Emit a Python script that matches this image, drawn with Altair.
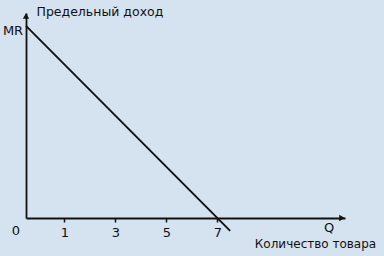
import altair as alt
import pandas as pd

# data
q_line = [-0.5, 7.5]
mr_line = [7.5, -0.5]
tick_values = [1, 3, 5, 7]

x_title = "Количество товара"
y_title = "Предельный доход"

X_DOMAIN = [-0.5, 12]
Y_DOMAIN = [0, 8]
FONT = "DejaVu Sans"
INK = "#111"

xs = alt.Scale(domain=X_DOMAIN, nice=False, zero=False)
ys = alt.Scale(domain=Y_DOMAIN, nice=False, zero=False)

line_df = pd.DataFrame({"Q": q_line, "MR": mr_line})

line = alt.Chart(line_df).mark_line(color=INK, strokeWidth=1.9, clip=False).encode(
    x=alt.X("Q:Q", scale=xs, axis=alt.Axis(
        values=tick_values, grid=False, domainColor=INK, domainWidth=1.8,
        tickColor=INK, tickSize=4, tickWidth=1.5, labelFont=FONT, labelFontSize=13,
        labelColor=INK, labelPadding=4, labelBaseline="top",
        title=x_title, titleFont=FONT, titleFontSize=12, titleFontWeight="normal",
        titleColor=INK, titleX=289, titleY=25, titleAlign="center", titleBaseline="middle",
        titleAnchor="start")),
    y=alt.Y("MR:Q", scale=ys, axis=alt.Axis(
        ticks=False, labels=False, grid=False, domainColor=INK, domainWidth=1.8,
        title=y_title, titleFont=FONT, titleFontSize=12.5, titleFontWeight="normal",
        titleColor=INK, titleAngle=0, titleX=10, titleY=-2, titleAlign="left",
        titleBaseline="middle", titleAnchor="start")),
)

mr_lbl = pd.DataFrame({"Q": [-0.5], "MR": [7.5], "t": ["MR"]})
zero_lbl = pd.DataFrame({"Q": [-0.5], "MR": [0], "t": ["0"]})
q_lbl = pd.DataFrame({"Q": [12], "MR": [0], "t": ["Q"]})


def label(df, dx, dy):
    return alt.Chart(df).mark_text(font=FONT, fontSize=13, color=INK, baseline="middle",
                                   align="center", dx=dx, dy=dy).encode(
        x=alt.X("Q:Q", scale=xs), y=alt.Y("MR:Q", scale=ys), text="t:N")


x_arrow = pd.DataFrame({"Q": [12], "MR": [0]})
y_arrow = pd.DataFrame({"Q": [-0.5], "MR": [8]})


def arrow(df, shape, ox, oy):
    return alt.Chart(df).mark_point(filled=True, color=INK, opacity=1, size=40, shape=shape,
                                    xOffset=ox, yOffset=oy).encode(
        x=alt.X("Q:Q", scale=xs), y=alt.Y("MR:Q", scale=ys))


chart = alt.layer(
    line,
    label(mr_lbl, -13, 5),
    label(zero_lbl, -10, 13),
    label(q_lbl, -16, 10),
    arrow(x_arrow, "triangle-right", -3, 0),
    arrow(y_arrow, "triangle-up", 0, 3),
).properties(
    width=319, height=205,
    background="#d5e2f0",
    padding={"left": 26, "top": 13, "right": 39, "bottom": 38},
    autosize=alt.AutoSizeParams(type="none"),
).configure_view(stroke=None)

chart.save("out.html", embed_options={"renderer": "svg", "actions": False})
